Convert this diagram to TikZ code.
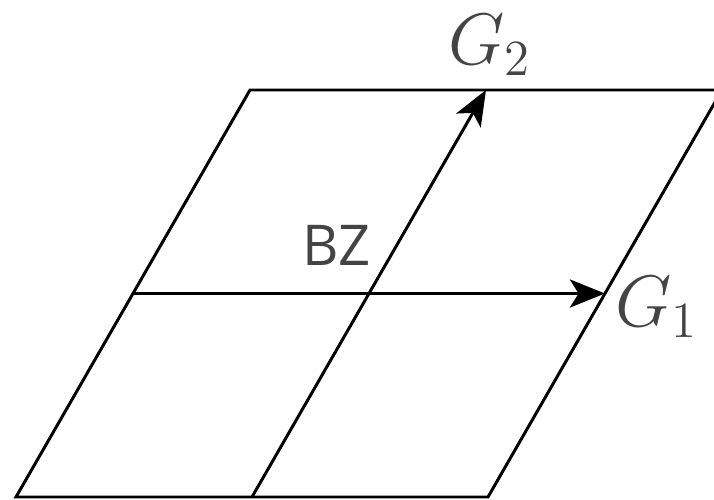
\documentclass[tikz,border=0pt]{standalone}
\usepackage{fontspec}
\newfontfamily\bzfont{Open Sans}
\usepackage{amsmath}
\usepackage{xcolor}
\definecolor{Gristexto}{RGB}{68,68,68}
\usetikzlibrary{calc, positioning, arrows.meta}

\begin{document}
\begin{tikzpicture}[
  x=0.01cm, y=0.01cm,
  borde/.style={line width=0.85pt, line join=miter},
  flecha/.style={borde, -{Stealth[length=10pt, width=8pt, inset=2.5pt]}},
  etiq/.style={text=Gristexto, font=\fontsize{20}{24}\selectfont, inner sep=0pt},
  zona/.style={text=Gristexto, font=\bzfont\fontsize{16}{19}\selectfont, inner sep=0pt}
]
\clip (0,0) rectangle (714,499);

%% ─────────────────────────────────────────
%% Vértices del paralelogramo (pixel = 0.01cm)
%% ─────────────────────────────────────────
\coordinate (BL) at (16,  2);
\coordinate (BR) at (488, 2);
\coordinate (TR) at (722, 409);
\coordinate (TL) at (250, 409);

\coordinate (BM) at ($(BL)!0.5!(BR)$);
\coordinate (TM) at ($(TL)!0.5!(TR)$);
\coordinate (LM) at ($(BL)!0.5!(TL)$);
\coordinate (RM) at ($(BR)!0.5!(TR)$);
\coordinate (O)  at ($(LM)!0.5!(RM)$);

%% contorno
\draw[borde] (BL) -- (BR) -- (TR) -- (TL) -- cycle;

%% líneas interiores
\draw[borde] (BM) -- (O);
\draw[borde] (LM) -- (O);

%% vectores recíprocos
\draw[flecha] (O) -- (RM);
\draw[flecha] (O) -- (TM);

%% etiquetas
\node[etiq] (G1) at (657, 192) {$G_1$};
\node[etiq] (G2) at (490, 454) {$G_2$};
\node[zona] (BZ) at (337, 254) {BZ};

\end{tikzpicture}
\end{document}
